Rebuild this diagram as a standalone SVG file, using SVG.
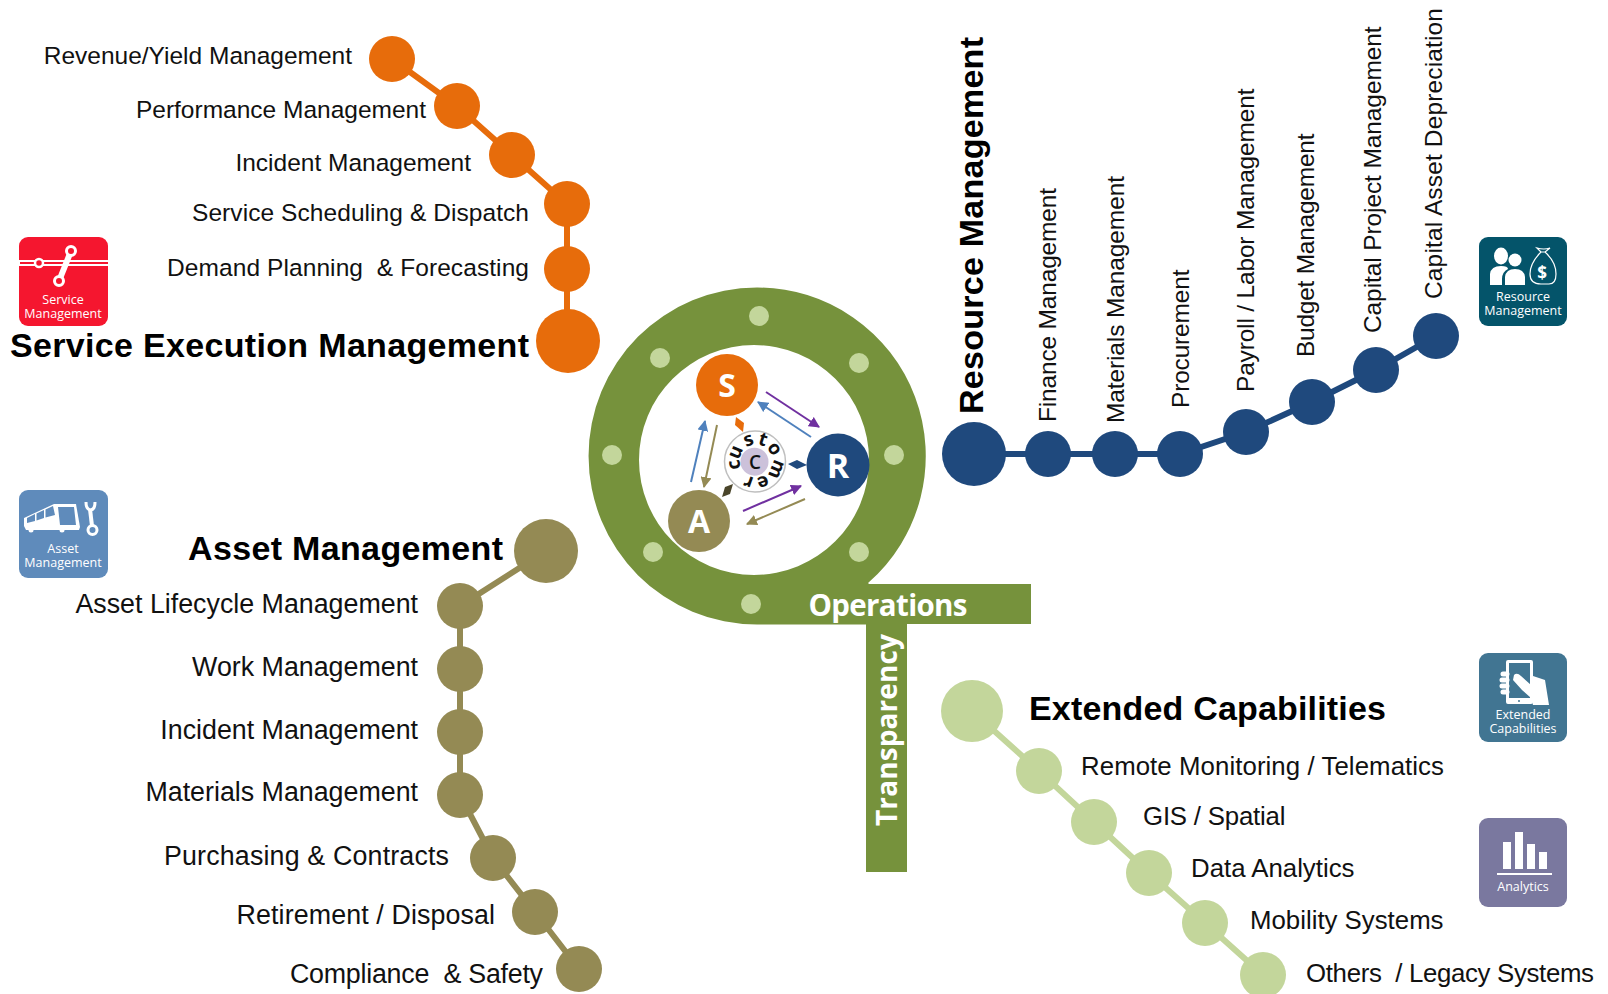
<svg xmlns="http://www.w3.org/2000/svg" width="1608" height="994" viewBox="0 0 1608 994">
<style>
text{font-family:"Liberation Sans",Arial,sans-serif;fill:#111;white-space:pre}
.l{font-size:24.5px}
.la{font-size:26.8px}
.lx{font-size:25.8px}
.h{font-size:34px;font-weight:700;fill:#000}
.e{text-anchor:end}
.i{font-family:"Open Sans","Noto Sans",sans-serif;font-size:12.5px;fill:#fff;text-anchor:middle}
.q{font-family:"Open Sans","Noto Sans",sans-serif;font-weight:700;fill:#fff}
.o{fill:#e76c0b}.ol{stroke:#e76c0b;stroke-width:6;fill:none}
.n{fill:#1f497d}.nl{stroke:#1f497d;stroke-width:6;fill:none}
.t{fill:#948a54}.tl{stroke:#948a54;stroke-width:6;fill:none}
.g{fill:#c3d69b}.gl{stroke:#c3d69b;stroke-width:6;fill:none}
.d{fill:#c3d69b}
.w{fill:#fff}
.ws{stroke:#fff;fill:none}
</style>
<defs>
<marker id="ap" viewBox="0 0 10 10" refX="9" refY="5" markerWidth="5.5" markerHeight="5.5" orient="auto"><path d="M0 0L10 5L0 10Z" fill="#7030a0"/></marker>
<marker id="ab" viewBox="0 0 10 10" refX="9" refY="5" markerWidth="5.5" markerHeight="5.5" orient="auto"><path d="M0 0L10 5L0 10Z" fill="#4f81bd"/></marker>
<marker id="at" viewBox="0 0 10 10" refX="9" refY="5" markerWidth="5.5" markerHeight="5.5" orient="auto"><path d="M0 0L10 5L0 10Z" fill="#948a54"/></marker>
</defs>
<g id="connectors">
<path class="ol" d="M392 59L457 106L512 155L567 204V341"/>
<path class="nl" d="M974 454H1180L1246 432L1312 402L1376 370L1436 336"/>
<path class="tl" d="M546 551L460 606V795L493 858L535 912L579 969"/>
<path class="gl" d="M972 711L1039 771L1094 822L1149 873L1205 923L1263 975"/>
<g fill="none" stroke-width="2">
<path stroke="#7030a0" marker-end="url(#ap)" d="M766 392L819 427"/>
<path stroke="#4f81bd" marker-end="url(#ab)" d="M811 437L758 402"/>
<path stroke="#4f81bd" marker-end="url(#ab)" d="M691 482L705 421"/>
<path stroke="#948a54" marker-end="url(#at)" d="M717 425L704 487"/>
<path stroke="#7030a0" marker-end="url(#ap)" d="M743 511L801 486"/>
<path stroke="#948a54" marker-end="url(#at)" d="M805 499L747 524"/>
</g>
<path fill="#e76c0b" d="M736 417L744 423L743 432L735 425Z"/>
<path fill="#1f497d" d="M788 464L797 460L807 465L797 469Z"/>
<path fill="#4a452a" d="M722 497L725 487L733 484L730 494Z"/>
</g>
<g id="operations-q">
<path fill="#76923c" fill-rule="evenodd" d="M757 287.500A168.500 168.500 0 0 1 868 583L869 584H1031V624H907V872H866V624.500H757A168.500 168.500 0 0 1 757 287.500ZM754 345A115 115 0 1 0 754 575A115 115 0 1 0 754 345Z"/>
<g class="d">
<circle cx="759" cy="316" r="10"/><circle cx="660" cy="358" r="10"/><circle cx="859" cy="363" r="10"/><circle cx="612" cy="455" r="10"/><circle cx="894" cy="455" r="10"/><circle cx="653" cy="552" r="10"/><circle cx="859" cy="552" r="10"/><circle cx="751" cy="604" r="10"/>
</g>
<text class="q" x="888" y="616" text-anchor="middle" font-size="29.5" textLength="159" lengthAdjust="spacing">Operations</text>
<text class="q" transform="translate(897 826) rotate(-90)" font-size="28" textLength="192" lengthAdjust="spacing">Transparency</text>
</g>
<g id="node-s"><circle class="o" cx="727" cy="385" r="31"/><text class="q" x="727" y="397" text-anchor="middle" font-size="32">S</text></g>
<g id="node-r"><circle class="n" cx="838" cy="465" r="31.5"/><text class="q" x="838" y="478" text-anchor="middle" font-size="34">R</text></g>
<g id="node-a"><circle class="t" cx="699" cy="521" r="31"/><text class="q" x="699" y="533" text-anchor="middle" font-size="32">A</text></g>
<g id="node-c"><circle cx="755" cy="461.500" r="30.500" fill="#fff" stroke="#bfbfbf" stroke-width="1.500"/><circle cx="754.500" cy="461.700" r="14" fill="#ccc1da"/>
<text x="755" y="468.500" text-anchor="middle" style="font-family:'Open Sans',sans-serif;font-size:19px;font-weight:600;fill:#111">C</text>
<text x="740.700 738.400 745.900 757.300 766.600 774.800 766.600 754.400" y="468.600 460.300 447 444 447.100 458.600 474.800 478" rotate="260 293 340 18 57 112 161 200" style="font-family:'Open Sans',sans-serif;font-size:19px;font-weight:700;fill:#111">customer</text></g>
<g id="service">
<g class="o"><circle cx="392" cy="59" r="23"/><circle cx="457" cy="106" r="23"/><circle cx="512" cy="155" r="23"/><circle cx="567" cy="204" r="23"/><circle cx="567" cy="269" r="23"/><circle cx="568" cy="341" r="32"/></g>
<text class="l e" x="352" y="64">Revenue/Yield Management</text>
<text class="l e" x="426" y="118">Performance Management</text>
<text class="l e" x="471" y="171">Incident Management</text>
<text class="l e" x="529" y="221" textLength="337" lengthAdjust="spacing">Service Scheduling &amp; Dispatch</text>
<text class="l e" x="529" y="276" textLength="362" lengthAdjust="spacing">Demand Planning  &amp; Forecasting</text>
<text class="h e" x="529" y="357" textLength="519" lengthAdjust="spacing">Service Execution Management</text>
</g>
<g id="resource">
<g class="n"><circle cx="974" cy="454" r="32"/><circle cx="1048" cy="454" r="23"/><circle cx="1115" cy="454" r="23"/><circle cx="1180" cy="454" r="23"/><circle cx="1246" cy="432" r="23"/><circle cx="1312" cy="402" r="23"/><circle cx="1376" cy="370" r="23"/><circle cx="1436" cy="336" r="23"/></g>
<text class="h" transform="translate(983 414) rotate(-90)" textLength="377" lengthAdjust="spacing">Resource Management</text>
<text class="l" transform="translate(1056 422) rotate(-90)" textLength="234" lengthAdjust="spacing">Finance Management</text>
<text class="l" transform="translate(1124 423) rotate(-90)" textLength="247" lengthAdjust="spacing">Materials Management</text>
<text class="l" transform="translate(1189 408) rotate(-90)" textLength="138.500" lengthAdjust="spacing">Procurement</text>
<text class="l" transform="translate(1254 392) rotate(-90)" textLength="303.500" lengthAdjust="spacing">Payroll / Labor Management</text>
<text class="l" transform="translate(1314 357) rotate(-90)" textLength="223.500" lengthAdjust="spacing">Budget Management</text>
<text class="l" transform="translate(1381 333) rotate(-90)" textLength="306.600" lengthAdjust="spacing">Capital Project Management</text>
<text class="l" transform="translate(1442 299) rotate(-90)" textLength="291" lengthAdjust="spacing">Capital Asset Depreciation</text>
</g>
<g id="asset">
<g class="t"><circle cx="546" cy="551" r="32"/><circle cx="460" cy="606" r="23"/><circle cx="460" cy="669" r="23"/><circle cx="460" cy="732" r="23"/><circle cx="460" cy="795" r="23"/><circle cx="493" cy="858" r="23"/><circle cx="535" cy="912" r="23"/><circle cx="579" cy="969" r="23"/></g>
<text class="h e" x="503" y="560" textLength="315" lengthAdjust="spacing">Asset Management</text>
<text class="la e" x="418" y="613">Asset Lifecycle Management</text>
<text class="la e" x="418" y="676">Work Management</text>
<text class="la e" x="418" y="739">Incident Management</text>
<text class="la e" x="418" y="801">Materials Management</text>
<text class="la e" x="449" y="865" textLength="285" lengthAdjust="spacing">Purchasing &amp; Contracts</text>
<text class="la e" x="495" y="924" textLength="258.500" lengthAdjust="spacing">Retirement / Disposal</text>
<text class="la e" x="543" y="983" textLength="253" lengthAdjust="spacing">Compliance  &amp; Safety</text>
</g>
<g id="extended">
<g class="g"><circle cx="972" cy="711" r="31"/><circle cx="1039" cy="771" r="23"/><circle cx="1094" cy="822" r="23"/><circle cx="1149" cy="873" r="23"/><circle cx="1205" cy="923" r="23"/><circle cx="1263" cy="975" r="23"/></g>
<text class="h" x="1029" y="720" textLength="357" lengthAdjust="spacing">Extended Capabilities</text>
<text class="lx" x="1081" y="775" textLength="363" lengthAdjust="spacing">Remote Monitoring / Telematics</text>
<text class="lx" x="1143" y="825" textLength="142.500" lengthAdjust="spacing">GIS / Spatial</text>
<text class="lx" x="1191" y="877">Data Analytics</text>
<text class="lx" x="1250" y="929">Mobility Systems</text>
<text class="lx" x="1306" y="982" textLength="288" lengthAdjust="spacing">Others  / Legacy Systems</text>
</g>
<g id="icon-service">
<rect x="19" y="237" width="89" height="89" rx="9" fill="#f5162f"/>
<rect x="19" y="260" width="89" height="6" fill="#fff"/><path d="M20 263H108" stroke="#f5162f" stroke-width="2" fill="none"/>
<circle cx="39" cy="263" r="4" fill="#f5162f" stroke="#fff" stroke-width="2.500"/>
<path class="ws" stroke-width="6" d="M71 251L59 281"/>
<circle cx="71" cy="251" r="4.500" fill="#f5162f" stroke="#fff" stroke-width="3"/><circle cx="59" cy="281" r="4.500" fill="#f5162f" stroke="#fff" stroke-width="3"/>
<text class="i" x="63" y="304">Service</text><text class="i" x="63" y="318">Management</text>
</g>
<g id="icon-asset">
<rect x="19" y="490" width="89" height="88" rx="9" fill="#5f8bbb"/>
<path class="w" d="M24 518L54 504H76L80 527L79 530H26L24 526Z"/>
<circle cx="31" cy="530" r="2.500" fill="#fff"/><circle cx="62" cy="530" r="2.500" fill="#fff"/>
<path fill="#5f8bbb" d="M27 518L35 514V521L27 523ZM36.500 513.500L44 510V518L36.500 520.500ZM45.500 509.500L53 506L55 515L45.500 517.500ZM58 507H74L76 525H60Z"/>
<path class="ws" stroke-width="4" d="M90 509L92 526"/>
<circle cx="92.500" cy="530" r="4.500" fill="#5f8bbb" stroke="#fff" stroke-width="3"/>
<path class="ws" stroke-width="3" d="M86 502Q86 509 90 510Q95 510 95 502"/>
<text class="i" x="63" y="553">Asset</text><text class="i" x="63" y="567">Management</text>
</g>
<g id="icon-resource">
<rect x="1479" y="237" width="88" height="89" rx="9" fill="#04546a"/>
<ellipse cx="1501" cy="256" rx="7" ry="8.500" class="w"/><circle cx="1515" cy="260" r="6.500" class="w"/>
<path class="w" d="M1490 285V274Q1491 266 1501 266Q1508 266 1508 269Q1502 272 1502 279V285Z"/><path class="w" d="M1505 285V277Q1506 269 1515 269Q1524 269 1525 277V285Z"/>
<path fill="none" stroke="#fff" stroke-width="1.200" d="M1537 248L1541 252Q1530 263 1530 274Q1530 284 1541 284H1549Q1556 284 1556 274Q1556 262 1545 252L1550 248Q1544 250 1537 248ZM1540 252H1546"/>
<text class="q" x="1542" y="279" text-anchor="middle" font-size="17">$</text>
<text class="i" x="1523" y="301">Resource</text><text class="i" x="1523" y="315">Management</text>
</g>
<g id="icon-extended">
<rect x="1479" y="653" width="88" height="89" rx="9" fill="#417592"/>
<path class="w" fill-rule="evenodd" d="M1508 660H1531Q1533 660 1533 662V702Q1533 704 1531 704H1508Q1506 704 1506 702V662Q1506 660 1508 660ZM1509 663V698H1530V663Z"/>
<circle cx="1519" cy="701" r="1" fill="#417592"/>
<path class="w" d="M1514 675Q1517 672 1521 676L1531 685L1533 676L1545 680L1549 705H1533L1531 698L1522 690L1513 680Z"/>
<path class="ws" stroke-width="5" stroke-linecap="round" d="M1503 674H1507M1502 680H1507M1502 686H1507M1503 692H1507"/>
<text class="i" x="1523" y="719">Extended</text><text class="i" x="1523" y="733">Capabilities</text>
</g>
<g id="icon-analytics">
<rect x="1479" y="818" width="88" height="89" rx="9" fill="#7a789f"/>
<path class="w" d="M1503 842h8v27h-8zM1515 832h8v37h-8zM1527 844h8v25h-8zM1539 852h8v17h-8zM1497 873h55v2h-55z"/>
<text class="i" x="1523" y="891">Analytics</text>
</g>
</svg>
